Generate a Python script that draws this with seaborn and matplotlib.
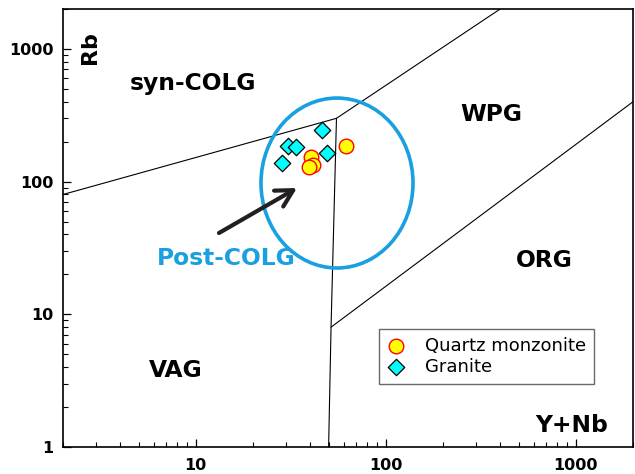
import matplotlib
matplotlib.use("Agg")
import matplotlib.pyplot as plt
from matplotlib.patches import Ellipse
import numpy as np
import pandas as pd
import seaborn as sns

# Sample analyses (ppm)
qm_ynb = [40.3, 41.3, 39.3, 61.5]
qm_rb = [154, 134, 130, 187]
gr_ynb = [46.0, 30.5, 33.6, 48.9, 28.4]
gr_rb = [246, 187, 183, 165, 139]

# Pearce et al. (1984) discrimination boundaries
syn_vag_x = [2, 55]
syn_vag_y = [80, 300]
syn_wpg_x = [55, 400]
syn_wpg_y = [300, 2000]
vag_wpg_x = [55, 51.5, 50]
vag_wpg_y = [300, 8, 1]
wpg_org_x = [51.5, 2000]
wpg_org_y = [8, 400]

x_ticks = [10, 100, 1000]
y_ticks = [1, 10, 100, 1000]

df = pd.DataFrame({
    "YNb": qm_ynb + gr_ynb,
    "Rb": qm_rb + gr_rb,
    "Rock": ["Quartz monzonite"] * len(qm_ynb) + ["Granite"] * len(gr_ynb),
})

sns.set_style("ticks")
plt.rcParams["font.family"] = ["DejaVu Sans"]
plt.rcParams.update({"text.color": "black", "axes.labelcolor": "black",
                     "xtick.color": "black", "ytick.color": "black",
                     "axes.edgecolor": "black"})

fig = plt.figure(figsize=(6.35, 4.74), dpi=100)
ax = fig.add_axes([63 / 635, 27 / 474, 570 / 635, 438 / 474])

ax.set_xscale("log")
ax.set_yscale("log")
ax.set_xlim(2, 2000)
ax.set_ylim(1, 2000)

for xs, ys in [(syn_vag_x, syn_vag_y), (syn_wpg_x, syn_wpg_y),
               (vag_wpg_x, vag_wpg_y), (wpg_org_x, wpg_org_y)]:
    ax.plot(xs, ys, color="black", lw=0.8, zorder=2)

blue = "#1aa0e0"

# Post-collisional field
ax.add_patch(Ellipse((0.4807, 0.6027), 0.2667, 0.388, transform=ax.transAxes,
                     fill=False, edgecolor=blue, lw=2.6, zorder=3))
ax.annotate("", xy=(0.4105, 0.5913), xytext=(0.2737, 0.4886),
            xycoords="axes fraction", textcoords="axes fraction",
            arrowprops=dict(arrowstyle="->, head_length=0.55, head_width=0.3",
                            color="#231f20", lw=3, mutation_scale=22,
                            shrinkA=0, shrinkB=0), zorder=4)

sns.scatterplot(data=df[df.Rock == "Granite"], x="YNb", y="Rb", marker="D",
                s=70, color="#00ffff", edgecolor="black", linewidth=0.9,
                label="Granite", ax=ax, zorder=5)
sns.scatterplot(data=df[df.Rock == "Quartz monzonite"], x="YNb", y="Rb",
                marker="o", s=110, color="#ffff00", edgecolor="#ff0000",
                linewidth=1.0, label="Quartz monzonite", ax=ax, zorder=6)

handles, labels = ax.get_legend_handles_labels()
order = [labels.index("Quartz monzonite"), labels.index("Granite")]
leg = ax.legend([handles[i] for i in order], [labels[i] for i in order],
                loc="upper left", bbox_to_anchor=(0.554, 0.2694),
                borderaxespad=0, fontsize=13, frameon=True, fancybox=False,
                borderpad=0.45, handlelength=1.0, handletextpad=1.1,
                labelspacing=0.15)
leg.get_frame().set_edgecolor("#444444")
leg.get_frame().set_linewidth(1.0)
for t in leg.get_texts():
    t.set_color("black")

# Field names
lab = dict(transform=ax.transAxes, fontsize=16.8, fontweight="bold",
           ha="center", va="baseline")
ax.text(0.228, 0.815, "syn-COLG", color="black", **lab)
ax.text(0.751, 0.744, "WPG", color="black", **lab)
ax.text(0.844, 0.411, "ORG", color="black", **lab)
ax.text(0.198, 0.160, "VAG", color="black", **lab)
ax.text(0.286, 0.4155, "Post-COLG", color=blue, **lab)
ax.text(0.893, 0.0342, "Y+Nb", color="black", **lab)
ax.text(0.0474, 0.913, "Rb", transform=ax.transAxes, fontsize=16,
        fontweight="bold", rotation=90, ha="center", va="center",
        color="black")

ax.set_xlabel("")
ax.set_ylabel("")
ax.set_xticks(x_ticks)
ax.set_xticklabels([str(v) for v in x_ticks])
ax.set_yticks(y_ticks)
ax.set_yticklabels([str(v) for v in y_ticks])
ax.tick_params(which="major", direction="in", length=6, width=0.9,
               labelsize=11.5, top=False, right=False, colors="black")
ax.tick_params(which="minor", direction="in", length=3.5, width=0.8,
               top=False, right=False, colors="black")
ax.tick_params(axis="x", which="major", pad=8)
ax.tick_params(axis="y", which="major", pad=7)
for t in ax.get_xticklabels() + ax.get_yticklabels():
    t.set_fontweight("bold")
for sp in ax.spines.values():
    sp.set_visible(True)
    sp.set_linewidth(1.2)
    sp.set_color("black")

fig.savefig("out.png", dpi=100)
